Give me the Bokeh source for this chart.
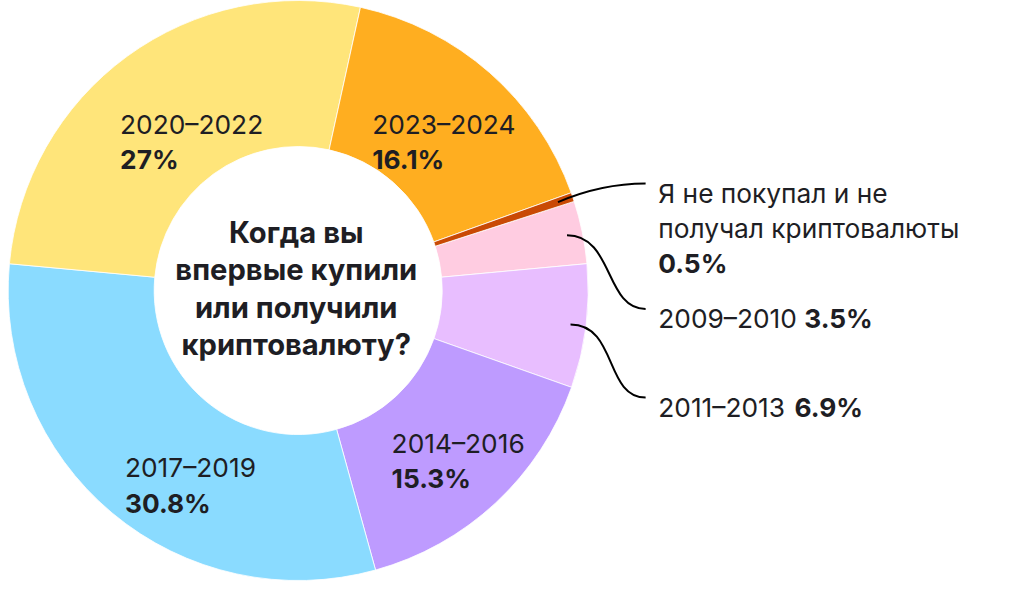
import math
from bokeh.plotting import figure
from bokeh.models import Range1d
from bokeh.core.properties import value
from bokeh.embed import file_html
from bokeh.resources import INLINE

# ---------------- data ----------------
categories = ["2009–2010", "2011–2013", "2014–2016", "2017–2019",
              "2020–2022", "2023–2024", "Я не покупал и не получал криптовалюты"]
values = [3.5, 6.9, 15.3, 30.8, 27, 16.1, 0.5]
pct_labels = ["3.5%", "6.9%", "15.3%", "30.8%", "27%", "16.1%", "0.5%"]
colors = ["#FFCCE1", "#E8BEFF", "#BE9BFF", "#8ADBFF", "#FFE57A", "#FFAE20", "#C94A05"]
title_lines = ["Когда вы", "впервые купили", "или получили", "криптовалюту?"]

# ---------------- layout (reference pixel space, y downwards) ----------------
W_REF, H_REF = 1024, 597
CX, CY = 300, 298
R_OUT, R_IN = 298, 148
START_CW = 72.1          # where the first slice starts, degrees clockwise from top
FONT = value("Inter")
TXT = "#1E1E24"
scale = 581 / H_REF
fs = f"{27 * scale:.1f}px"
fs_title = f"{30 * scale:.1f}px"

def Y(y):
    return H_REF - y

fig_w, fig_h = 1008, 581
xspan = fig_w / scale
x0 = (W_REF - xspan) / 2

p = figure(width=fig_w, height=fig_h, output_backend="svg", toolbar_location=None,
           x_range=Range1d(x0, x0 + xspan), y_range=Range1d(0, H_REF),
           min_border=0)
p.axis.visible = False
p.grid.visible = False
p.outline_line_color = None
p.background_fill_color = "white"

# ---------------- wedges ----------------
total = sum(values)
starts, ends, mids = [], [], []
a = START_CW
for v in values:
    span = v / total * 360
    starts.append(a)
    ends.append(a + span)
    mids.append(a + span / 2)
    a += span

# bokeh angles: counter-clockwise from +x  ->  90 - clockwise-from-top
start_angles = [math.radians(90 - e) for e in ends]
end_angles = [math.radians(90 - s) for s in starts]
p.annular_wedge(x=[CX] * len(values), y=[Y(CY)] * len(values),
                inner_radius=R_IN, outer_radius=R_OUT,
                start_angle=start_angles, end_angle=end_angles,
                fill_color=colors, line_color="white", line_width=0.8)

# ---------------- inside labels ----------------
inside = {  # index: (left x, baseline of first line)
    2: (396, 455),
    3: (122, 480),
    4: (117, 127),
    5: (376, 127),
}
LH = 36.5
for i, (lx, by) in inside.items():
    p.text(x=[lx], y=[Y(by)], text=[categories[i]], text_font=FONT, text_font_size=fs,
           text_align="left", text_baseline="alphabetic", text_color=TXT)
    p.text(x=[lx], y=[Y(by + LH)], text=[pct_labels[i]], text_font=FONT, text_font_size=fs,
           text_font_style="bold", text_align="left", text_baseline="alphabetic", text_color=TXT)

# ---------------- outside labels with leader lines ----------------
LX = 670
# index: (baseline of first line, x offset of bold pct on same line)
outside = {6: (198, None), 0: (327, 150), 1: (418, 140)}
R_LEAD = 282
for i, (by, _) in outside.items():
    ang = math.radians(mids[i])
    sx = CX + R_LEAD * math.sin(ang)
    sy = CY - R_LEAD * math.cos(ang)
    ex, ey = LX - 13, by - 10
    if i == 6:
        c0 = (sx + 28, sy - 12)
        c1 = (ex - 35, ey)
    else:
        c0 = (sx + 48, sy)
        c1 = (ex - 42, ey)
    p.bezier(x0=[sx], y0=[Y(sy)], x1=[ex], y1=[Y(ey)],
             cx0=[c0[0]], cy0=[Y(c0[1])], cx1=[c1[0]], cy1=[Y(c1[1])],
             line_color="black", line_width=2)

# multi-line label for "did not buy"
p.text(x=[LX, LX], y=[Y(198), Y(234)], text=["Я не покупал и не", "получал криптовалюты"],
       text_font=FONT, text_font_size=fs, text_align="left", text_baseline="alphabetic",
       text_color=TXT)
p.text(x=[LX], y=[Y(270)], text=[pct_labels[6]], text_font=FONT, text_font_size=fs,
       text_font_style="bold", text_align="left", text_baseline="alphabetic", text_color=TXT)

# single-line labels "period  pct"
for i in (0, 1):
    by, off = outside[i]
    p.text(x=[LX], y=[Y(by)], text=[categories[i]], text_font=FONT, text_font_size=fs,
           text_align="left", text_baseline="alphabetic", text_color=TXT)
    p.text(x=[LX + off], y=[Y(by)], text=[pct_labels[i]], text_font=FONT, text_font_size=fs,
           text_font_style="bold", text_align="left", text_baseline="alphabetic", text_color=TXT)

# ---------------- centre title ----------------
title_base = [238, 276.5, 315, 353.5]
p.text(x=[298] * 4, y=[Y(b) for b in title_base], text=title_lines, text_font=FONT,
       text_font_size=fs_title, text_font_style="bold", text_align="center",
       text_baseline="alphabetic", text_color=TXT)

open("out.html", "w").write(file_html(p, INLINE))
